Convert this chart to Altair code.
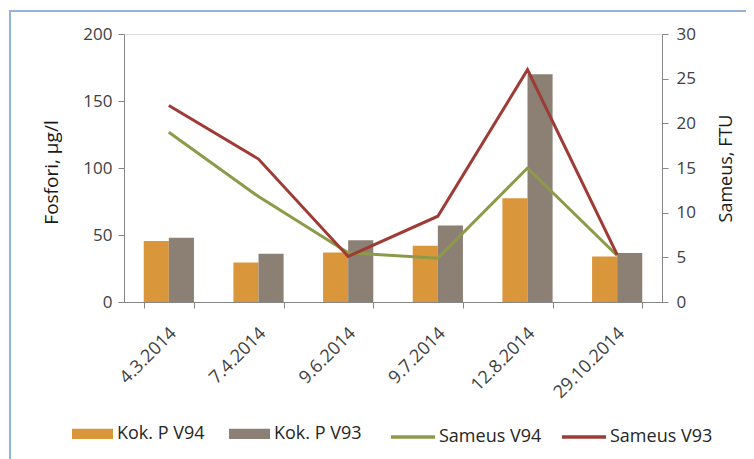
import altair as alt
import pandas as pd

dates = ["4.3.2014", "7.4.2014", "9.6.2014", "9.7.2014", "12.8.2014", "29.10.2014"]
kokp_v94 = [45.5, 29.5, 37, 42, 77.5, 34]
kokp_v93 = [48, 36, 46, 57, 170, 36.5]
sameus_v94 = [19, 11.8, 5.5, 4.9, 15, 5.2]
sameus_v93 = [22, 16, 5.1, 9.6, 26, 5.3]

bar_names = ["Kok. P V94", "Kok. P V93"]
line_names = ["Sameus V94", "Sameus V93"]
bar_colors = ["#D9963A", "#8C8075"]
line_colors = ["#8C9A4A", "#9E3B35"]

bars_df = pd.DataFrame(
    [{"date": d, "series": bar_names[0], "value": v} for d, v in zip(dates, kokp_v94)]
    + [{"date": d, "series": bar_names[1], "value": v} for d, v in zip(dates, kokp_v93)]
)
lines_df = pd.DataFrame(
    [{"date": d, "series": line_names[0], "value": v} for d, v in zip(dates, sameus_v94)]
    + [{"date": d, "series": line_names[1], "value": v} for d, v in zip(dates, sameus_v93)]
)

FONT = "Open Sans"
AXIS_COLOR = "#868686"
LABEL_COLOR = "#404040"

x_enc = alt.X(
    "date:N",
    sort=dates,
    scale=alt.Scale(paddingInner=0.44, paddingOuter=0.22),
    axis=alt.Axis(
        title=None,
        labelAngle=-45,
        labelAlign="right",
        labelBaseline="top",
        labelFont=FONT,
        labelFontSize=18,
        labelColor=LABEL_COLOR,
        labelPadding=16,
        labelOffset=-2,
        tickBand="extent",
        tickSize=6,
        tickColor=AXIS_COLOR,
        domainColor=AXIS_COLOR,
        grid=False,
    ),
)

border = alt.Chart(pd.DataFrame({"a": [0]})).mark_rect(
    fillOpacity=0, stroke="#95B3D7", strokeWidth=2
).encode(
    x=alt.value(-114), x2=alt.value(660), y=alt.value(-23), y2=alt.value(460)
)

bars = alt.Chart(bars_df).mark_bar().encode(
    x=x_enc,
    xOffset=alt.XOffset("series:N", sort=bar_names, scale=alt.Scale(paddingInner=0, paddingOuter=0)),
    y=alt.Y(
        "value:Q",
        scale=alt.Scale(domain=[0, 200], nice=False),
        axis=alt.Axis(
            orient="left",
            values=[0, 50, 100, 150, 200],
            title="Fosfori, µg/l",
            titleFont=FONT,
            titleFontSize=19,
            titleFontWeight="normal",
            titleColor="#1a1a1a",
            titleAngle=-90,
            titleBaseline="middle",
            titleAlign="center",
            titleX=-73,
            titleY=138,
            labelFont=FONT,
            labelFontSize=17,
            labelColor=LABEL_COLOR,
            labelPadding=6,
            tickSize=6,
            tickColor=AXIS_COLOR,
            domainColor=AXIS_COLOR,
            grid=False,
        ),
    ),
    color=alt.Color(
        "series:N",
        sort=bar_names,
        scale=alt.Scale(domain=bar_names, range=bar_colors),
        legend=alt.Legend(
            title=None,
            orient="none",
            legendX=-52,
            legendY=379,
            direction="horizontal",
            symbolType="M-1,-0.25H1V0.25H-1Z",
            symbolSize=1681,
            symbolStrokeWidth=0,
            labelFont=FONT,
            labelFontSize=18,
            labelColor="#262626",
            labelOffset=4,
            columnPadding=24,
            padding=0,
        ),
    ),
)

lines = alt.Chart(lines_df).mark_line(strokeWidth=3).encode(
    x=alt.X("date:N", sort=dates),
    y=alt.Y(
        "value:Q",
        scale=alt.Scale(domain=[0, 30], nice=False),
        axis=alt.Axis(
            orient="right",
            values=[0, 5, 10, 15, 20, 25, 30],
            title="Sameus, FTU",
            titleAngle=-90,
            titleBaseline="middle",
            titleAlign="center",
            titleX=64,
            titleY=134,
            titleFont=FONT,
            titleFontSize=18,
            titleFontWeight="normal",
            titleColor="#1a1a1a",
            labelFont=FONT,
            labelFontSize=17,
            labelColor=LABEL_COLOR,
            labelPadding=8,
            tickSize=6,
            tickColor=AXIS_COLOR,
            domainColor=AXIS_COLOR,
            grid=False,
        ),
    ),
    color=alt.Color(
        "series:N",
        sort=line_names,
        scale=alt.Scale(domain=line_names, range=line_colors),
        legend=alt.Legend(
            title=None,
            orient="none",
            legendX=265,
            legendY=379,
            direction="horizontal",
            symbolType="stroke",
            symbolSize=1936,
            symbolStrokeWidth=3.5,
            labelFont=FONT,
            labelFontSize=18,
            labelColor="#262626",
            labelOffset=2,
            columnPadding=13,
            padding=0,
        ),
    ),
)

chart = (
    alt.layer(border, bars, lines)
    .resolve_scale(y="independent", color="independent")
    .properties(
        width=538,
        height=268,
        autosize=alt.AutoSizeParams(type="none"),
        padding={"left": 116, "top": 26, "right": 84, "bottom": 160},
    )
    .configure_view(stroke="#D9D9D9", strokeWidth=1)
    .configure(background="white")
)

chart.save("out.html", embed_options={"renderer": "svg", "actions": False})
